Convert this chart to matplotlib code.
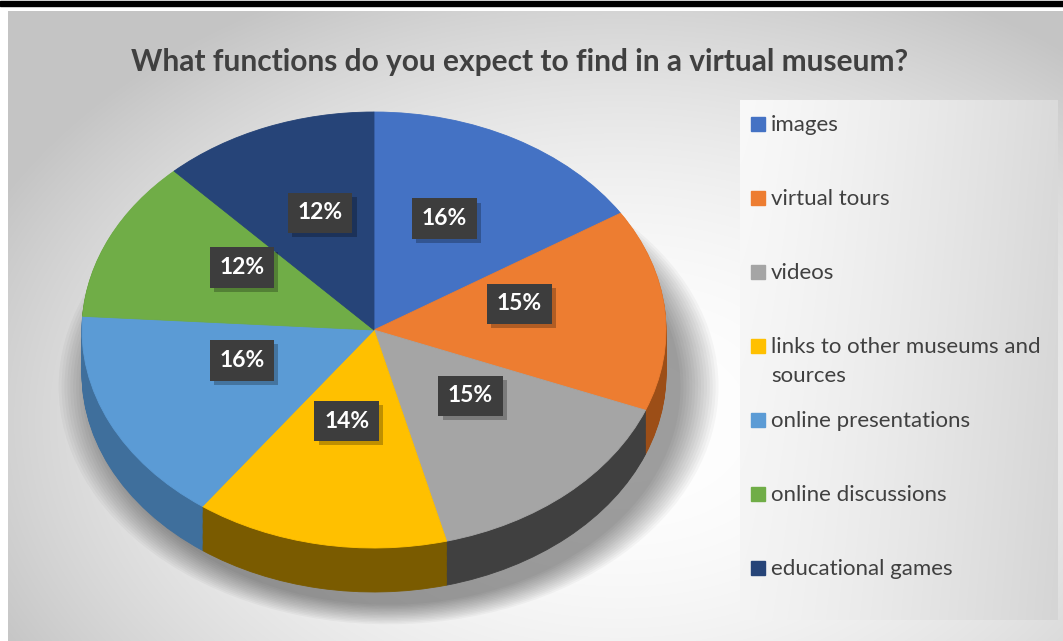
import numpy as np
import matplotlib.pyplot as plt
from matplotlib.patches import Ellipse, Rectangle
import matplotlib.patheffects as pe

plt.rcParams['font.family'] = ['Lato', 'DejaVu Sans']

# data
categories = ['images', 'virtual tours', 'videos',
              'links to other museums and\nsources', 'online presentations',
              'online discussions', 'educational games']
values = [16, 15, 15, 14, 16, 12, 12]
title = 'What functions do you expect to find in a virtual museum?'

# styles
colors = ['#4472C4', '#ED7D31', '#A5A5A5', '#FFC000', '#5B9BD5', '#70AD47', '#264478']
side_colors = ['#2f5597', '#9c4e17', '#404040', '#7a5b00', '#3f6f9c', '#4e7a31', '#1a3055']
text_col = '#404040'

W, H = 1063, 641
fig = plt.figure(figsize=(W / 100, H / 100), dpi=100)

# background axes in pixel coordinates
bg = fig.add_axes([0, 0, 1, 1])
yy, xx = np.mgrid[11:H, 8:W]
d = np.sqrt(((xx - 620) / 700.) ** 2 + ((yy - 420) / 480.) ** 2)
shade = 1 - 0.23 * np.clip(d, 0, 1) ** 2
bg.imshow(np.dstack([shade] * 3), extent=(8, W, H, 11), aspect='auto', zorder=0)

# legend panel
yy, xx = np.mgrid[100:620, 740:1058]
shade = 0.975 - 0.12 * ((xx - 740) / 318.) ** 1.3 - 0.02 * ((yy - 100) / 520.)
bg.imshow(np.dstack([shade] * 3), extent=(740, 1058, 620, 100), aspect='auto', zorder=1)

bg.add_patch(Rectangle((0, 1), W, 4.5, color='black', zorder=2))
bg.set_xlim(0, W)
bg.set_ylim(H, 0)
bg.axis('off')

bg.text(520, 62, title, ha='center', va='center', fontsize=21.5,
        fontweight='bold', color=text_col, zorder=3)

for i, (lab, col) in enumerate(zip(categories, colors)):
    y = 124 + 74 * i
    bg.add_patch(Rectangle((751, y - 7), 14, 14, color=col, zorder=3))
    for j, line in enumerate(lab.split('\n')):
        bg.text(771, y + 7 + 29 * j, line, ha='left', va='baseline', fontsize=16,
                color=text_col, zorder=3)

# pie axes, squashed so the pie becomes an ellipse
cx, cy, a, b = 374, 330, 292, 218
x0, x1, y0, y1 = -1.4, 1.4, -1.5, 1.2
ax = fig.add_axes([(cx + x0 * a) / W, (H - (cy - y0 * b)) / H,
                   (x1 - x0) * a / W, (y1 - y0) * b / H])

# soft shadow under the pie
for s in np.linspace(1.0, 0.0, 14):
    ax.add_patch(Ellipse((0.05, -0.26), 2 * (1.0 + 0.13 * s), 2 * (1.0 + 0.09 * s),
                         color='black', alpha=0.032, lw=0))


def seal(ws):
    for w in ws:
        w.set_edgecolor(w.get_facecolor())
        w.set_linewidth(0.6)


depth = 44. / b
for dz in np.linspace(depth, 0.004, 40):
    ws, _ = ax.pie(values, colors=side_colors, startangle=90, counterclock=False,
                   center=(0, -dz))
    seal(ws)

wedges, _, autotexts = ax.pie(values, colors=colors, startangle=90, counterclock=False,
                              autopct='%1.0f%%', pctdistance=0.5,
                              textprops=dict(color='white', fontsize=16.5, fontweight='bold'))
seal(wedges)

lift = 16. / b
for t in autotexts:
    x, y = t.get_position()
    t.set_position((x, y + lift))
    t.set_bbox(dict(boxstyle='square,pad=0.42', fc='#3d3d3d', ec='none', lw=0))
    t.get_bbox_patch().set_path_effects(
        [pe.SimplePatchShadow(offset=(3, -3), shadow_rgbFace='black', alpha=0.25), pe.Normal()])
    t.set_zorder(5)

ax.set_aspect('auto')
ax.set_xlim(x0, x1)
ax.set_ylim(y0, y1)
ax.axis('off')

fig.savefig('out.png', dpi=100)
